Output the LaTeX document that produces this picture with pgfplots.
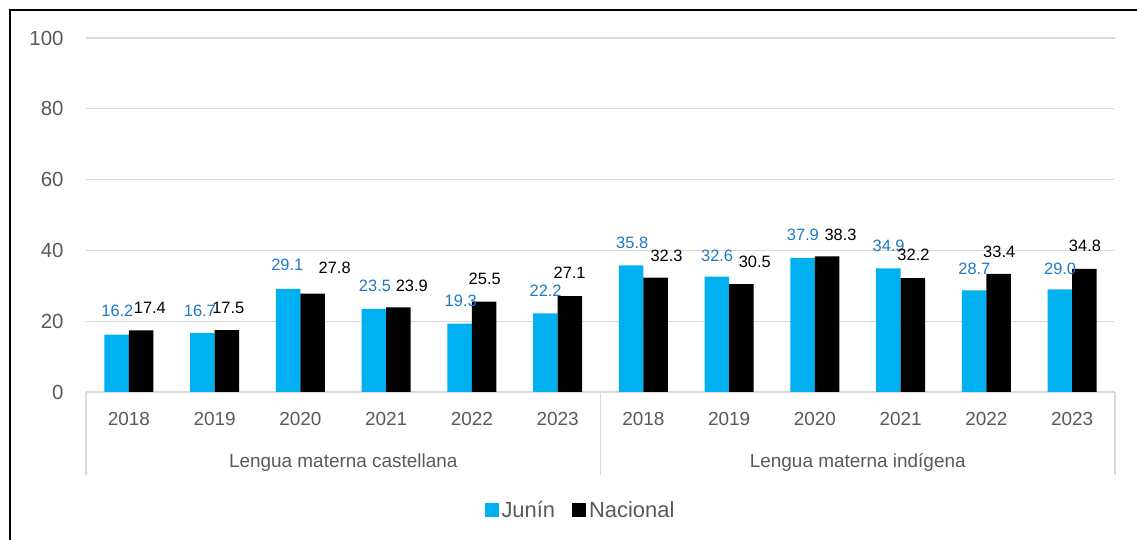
\documentclass[border=0pt]{standalone}
\usepackage{pgfplots}
\pgfplotsset{compat=1.18}
\usepackage{fontspec}
\setmainfont{Liberation Sans}
\definecolor{junin}{HTML}{00B0F0}
\definecolor{junintext}{HTML}{1E78C8}
\definecolor{textgray}{HTML}{595959}
\definecolor{gridgray}{HTML}{D9D9D9}
\begin{document}
\begin{tikzpicture}[x=1bp,y=1bp]
\useasboundingbox (0,0) rectangle (1137,540);
\draw[black, line width=1.6bp] (10,0) -- (10,530) -- (1140,530);
\begin{axis}[
  at={(86bp,148bp)}, anchor=south west,
  scale only axis, width=1029bp, height=354bp,
  clip=false,
  xmin=-0.5, xmax=11.5, ymin=0, ymax=100,
  ytick={0,20,40,60,80,100},
  xtick={0,...,11},
  xticklabels={2018,2019,2020,2021,2022,2023,2018,2019,2020,2021,2022,2023},
  ymajorgrids, grid style={draw=gridgray, line width=1.2bp},
  axis x line*=bottom, axis y line*=left,
  x axis line style={draw=gridgray, line width=1.2bp, -},
  y axis line style={draw=none},
  major tick length=0pt,
  tick label style={text=textgray, /pgf/number format/assume math mode=true},
  xticklabel style={font=\fontsize{19}{22}\selectfont, yshift=-17bp},
  yticklabel style={font=\fontsize{20.5}{24}\selectfont, xshift=-19bp},
  legend style={at={(0.481,0)}, anchor=north, yshift=-104bp, draw=none, fill=none,
    legend columns=2, font=\fontsize{22}{25}\selectfont, text=textgray,
    /tikz/every even column/.append style={column sep=14bp},
    nodes={inner sep=3bp}},
  legend image code/.code={\fill[#1] (0bp,-7bp) rectangle (14bp,7bp);},
]
\addplot[ybar, bar width=24.5bp, bar shift=-12.25bp, fill=junin, draw=none] coordinates {
 (0,16.2) (1,16.7) (2,29.1) (3,23.5) (4,19.3) (5,22.2)
 (6,35.8) (7,32.6) (8,37.9) (9,34.9) (10,28.7) (11,29.0)};
\addlegendentry{Junín}
\addplot[ybar, bar width=24.5bp, bar shift=12.25bp, fill=black, draw=none] coordinates {
 (0,17.4) (1,17.5) (2,27.8) (3,23.9) (4,25.5) (5,27.1)
 (6,32.3) (7,30.5) (8,38.3) (9,32.2) (10,33.4) (11,34.8)};
\addlegendentry{Nacional}
% data labels (positions as placed in the reference)
\addplot[draw=none, mark=none, forget plot, nodes near coords, point meta=explicit symbolic,
  nodes near coords style={anchor=center, inner sep=0pt, font=\fontsize{16.5}{19}\selectfont, text=junintext}]
 coordinates {
 (-0.134,22.9) [16.2] (0.828,22.9) [16.7] (1.848,35.9) [29.1] (2.87,29.9) [23.5]
 (3.87,25.7) [19.3] (4.86,28.5) [22.2] (5.87,42.1) [35.8] (6.86,38.4) [32.6]
 (7.86,44.4) [37.9] (8.86,41.2) [34.9] (9.86,34.7) [28.7] (10.86,34.7) [29.0]};
\addplot[draw=none, mark=none, forget plot, nodes near coords, point meta=explicit symbolic,
  nodes near coords style={anchor=center, inner sep=0pt, font=\fontsize{16.5}{19}\selectfont, text=black}]
 coordinates {
 (0.245,23.7) [17.4] (1.160,23.7) [17.5] (2.40,35.0) [27.8] (3.30,29.9) [23.9]
 (4.15,31.9) [25.5] (5.14,33.6) [27.1] (6.27,38.4) [32.3] (7.30,36.7) [30.5]
 (8.30,44.4) [38.3] (9.15,38.7) [32.2] (10.15,39.5) [33.4] (11.15,41.2) [34.8]};
\draw[gridgray, line width=1.2bp] (axis cs:-0.5,0) -- ([yshift=-83bp]axis cs:-0.5,0);
\draw[gridgray, line width=1.2bp] (axis cs:5.5,0) -- ([yshift=-83bp]axis cs:5.5,0);
\draw[gridgray, line width=1.2bp] (axis cs:11.5,0) -- ([yshift=-83bp]axis cs:11.5,0);
\node[text=textgray, font=\fontsize{19}{22}\selectfont, anchor=center] at ([yshift=-71bp]axis cs:2.5,0) {Lengua materna castellana};
\node[text=textgray, font=\fontsize{19}{22}\selectfont, anchor=center] at ([yshift=-71bp]axis cs:8.5,0) {Lengua materna indígena};
\end{axis}
\end{tikzpicture}
\end{document}
